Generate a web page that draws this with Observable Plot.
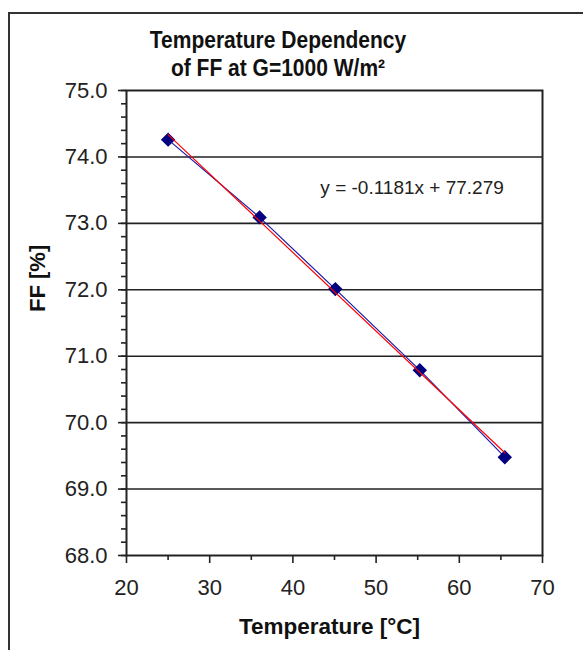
<!DOCTYPE html>
<html><head><meta charset="utf-8">
<script src="https://cdn.jsdelivr.net/npm/d3@7"></script>
<script src="https://cdn.jsdelivr.net/npm/@observablehq/plot@0.6"></script>
<style>
html,body{margin:0;padding:0;background:#fff;overflow:hidden;width:583px;height:650px;}
#frame{position:absolute;left:8px;top:12px;width:700px;height:800px;border-left:2px solid #333;border-top:2px solid #333;box-sizing:border-box;}
#title{position:absolute;left:0;top:27px;width:556px;text-align:center;font:bold 21px/24px "Liberation Sans",Arial,sans-serif;color:#111;transform:scaleY(1.13);transform-origin:top center;}
#chart{position:absolute;left:0;top:0;}
</style></head><body>
<div id="frame"></div>
<div id="chart"></div>
<div id="title">Temperature Dependency<br>of FF at G=1000 W/m²</div>
<script>
// Data
const temperatures = [25.0, 36.0, 45.1, 55.25, 65.47];
const fillFactor = [74.26, 73.09, 72.01, 70.79, 69.48];

// Tick labels
const xTicks = [20, 30, 40, 50, 60, 70];
const yTicks = [68, 69, 70, 71, 72, 73, 74, 75];
const xMinorTicks = [25, 35, 45, 55, 65];
const yMinorTicks = d3.range(68, 75.0001, 0.2);
const yGridLines = [69, 70, 71, 72, 73, 74];

// Annotation
const equationNote = [{x: 43.3, y: 73.53, label: "y = -0.1181x + 77.279"}];

const rows = temperatures.map((t, i) => ({t, ff: fillFactor[i]}));

const ink = "#222";
const chart = Plot.plot({
  width: 583,
  height: 650,
  marginLeft: 126,
  marginRight: 41,
  marginTop: 90,
  marginBottom: 95,
  style: {fontFamily: '"Liberation Sans", Arial, sans-serif', fontSize: "22px", color: ink, background: "transparent", overflow: "visible"},
  x: {domain: [20, 70], label: null},
  y: {domain: [68, 75], label: null},
  marks: [
    Plot.gridY(yGridLines, {stroke: ink, strokeOpacity: 1, strokeWidth: 1.6}),
    Plot.axisY(yMinorTicks, {tickSize: 5, tickFormat: () => "", stroke: ink, strokeWidth: 1.6, label: null}),
    Plot.axisY(yTicks, {tickSize: 8, tickPadding: 11, tickFormat: d3.format(".1f"), stroke: ink, strokeWidth: 1.6, label: null, fill: ink}),
    Plot.axisX(xMinorTicks, {tickSize: 5, tickFormat: () => "", stroke: ink, strokeWidth: 1.6, label: null}),
    Plot.axisX(xTicks, {tickSize: 8, tickPadding: 16, stroke: ink, strokeWidth: 1.6, label: null, fill: ink}),
    Plot.frame({stroke: ink, strokeWidth: 2}),
    Plot.line(rows, {x: "t", y: "ff", stroke: "#1a1aa6", strokeWidth: 1.2}),
    Plot.dot(rows, {x: "t", y: "ff", symbol: "diamond2", r: 6.5, fill: "#000080"}),
    Plot.linearRegressionY(rows, {x: "t", y: "ff", stroke: "#ff0000", strokeWidth: 1.2, ci: 0}),
    Plot.text(equationNote, {x: "x", y: "y", text: "label", textAnchor: "start", fontSize: 19, fill: ink}),
    Plot.text(["FF [%]"], {frameAnchor: "left", dx: -89, dy: -11, rotate: -90, fontWeight: "bold", fontSize: 22, fill: "#111"}),
    Plot.text(["Temperature [°C]"], {frameAnchor: "bottom", dx: -5, dy: 71, lineAnchor: "middle", fontWeight: "bold", fontSize: 22.5, fill: "#111"})
  ]
});
document.getElementById("chart").appendChild(chart);
</script>
</body></html>
